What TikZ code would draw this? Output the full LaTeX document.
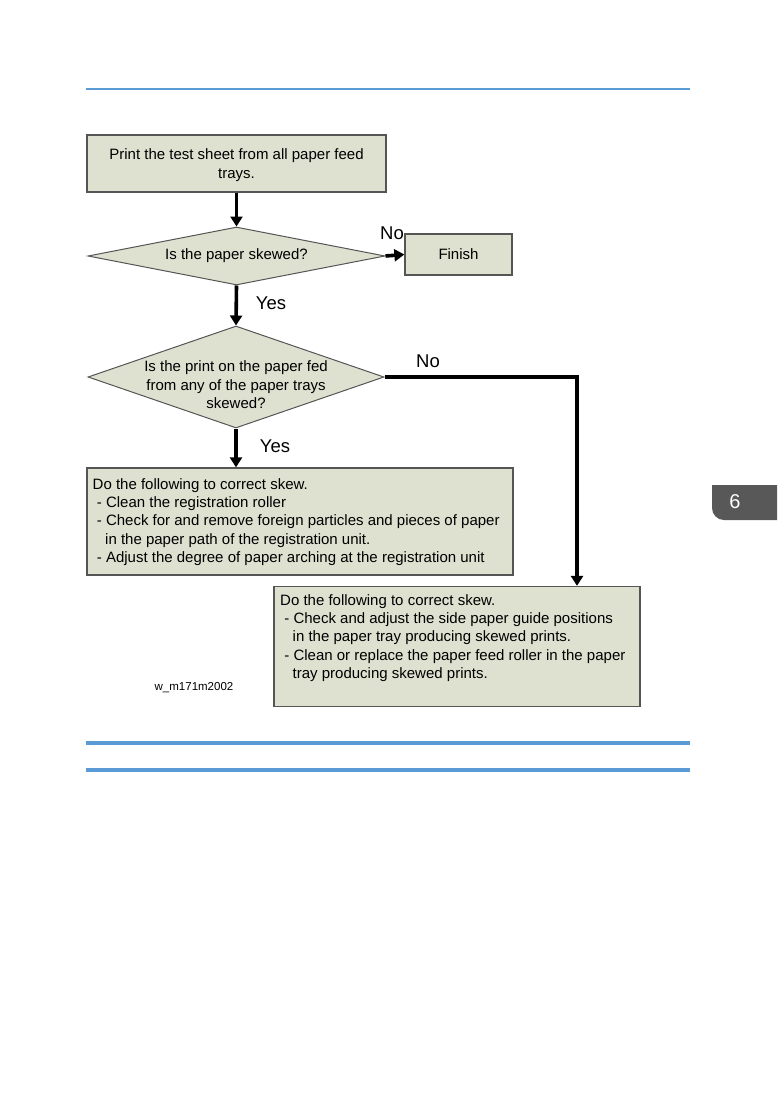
\documentclass[tikz,border=0pt]{standalone}
\usepackage{fontspec}
\setmainfont{Liberation Sans}
\usetikzlibrary{shapes.geometric,arrows.meta}
\definecolor{boxfill}{RGB}{222,224,208}
\definecolor{boxline}{RGB}{85,85,85}
\definecolor{rule}{RGB}{91,155,213}
\definecolor{tabgray}{RGB}{88,88,88}
\tikzset{
  flowbox/.style={draw=boxline, fill=boxfill, line width=1.3pt, inner sep=0pt},
  dia/.style={diamond, draw=boxline, fill=boxfill, line width=1pt, inner sep=0pt},
  txt/.style={font=\fontsize{15}{18.4}\selectfont, inner sep=0pt},
  lbl/.style={font=\fontsize{18.5}{21}\selectfont, inner sep=0pt},
  arr/.style={line width=3.6pt, line join=miter, -{Triangle[length=10pt,width=12pt]}}
}
\begin{document}
\begin{tikzpicture}[x=1pt,y=-1pt]
\useasboundingbox (0,0) rectangle (777,1102);
% page rules
\draw[rule, line width=2.2pt] (86,89) -- (690,89);
\draw[rule, line width=4pt] (86,743) -- (690,743);
\draw[rule, line width=4pt] (86,770) -- (690,770);
% chapter tab
\fill[tabgray] (777,485) -- (712,485) -- (712,508) to[out=-90,in=180] (724,520) -- (777,520) -- cycle;
\node[font=\fontsize{20}{24}\selectfont, text=white, inner sep=0pt] (tab) at (735,502) {6};
% flowchart
\node[flowbox, minimum width=299, minimum height=57] (b1) at (236.5,163.5) {};
\node[txt, align=center] (b1t) at (236.5,165) {Print the test sheet from all paper feed\\trays.};
\node[dia, minimum width=297, minimum height=58] (d1) at (236.5,256) {};
\node[txt] (d1t) at (d1.center) {Is the paper skewed?};
\node[flowbox, minimum width=107, minimum height=41] (fin) at (458.5,254.5) {};
\node[txt] (fint) at (fin.center) {Finish};
\node[dia, minimum width=296, minimum height=102] (d2) at (236,377) {};
\node[txt, align=center] (d2t) at (236,385) {Is the print on the paper fed\\from any of the paper trays\\skewed?};
\node[flowbox, minimum width=426, minimum height=107] (b3) at (300,521.5) {};
\node[txt, align=left, anchor=north west] (b3t) at (92.5,478) {Do the following to correct skew.\\
\ - Clean the registration roller\\
\ - Check for and remove foreign particles and pieces of paper\\
\ \ \ in the paper path of the registration unit.\\
\ - Adjust the degree of paper arching at the registration unit};
\node[flowbox, minimum width=366, minimum height=120] (b4) at (457,646.5) {};
\node[txt, align=left, anchor=north west] (b4t) at (280,594) {Do the following to correct skew.\\
\ - Check and adjust the side paper guide positions\\
\ \ \ in the paper tray producing skewed prints.\\
\ - Clean or replace the paper feed roller in the paper\\
\ \ \ tray producing skewed prints.};
\node[font=\fontsize{11.5}{13}\selectfont, inner sep=0pt] (fig) at (194,688) {w\_m171m2002};
% connectors
\draw[arr] (b1.south) -- (d1.north);
\draw[arr] (d1.east) -- (fin.west);
\node[lbl] (no1) at (392,233) {No};
\draw[arr] (d1.south) -- (d2.north);
\node[lbl] (yes1) at (271,303) {Yes};
\draw[arr] (d2.south) -- (d2.south |- b3.north);
\node[lbl] (yes2) at (275,446) {Yes};
\coordinate (c1) at (577,377);
\draw[arr] (d2.east) -- (c1) -- (c1 |- b4.north);
\node[lbl] (no2) at (428,361) {No};
\end{tikzpicture}
\end{document}
